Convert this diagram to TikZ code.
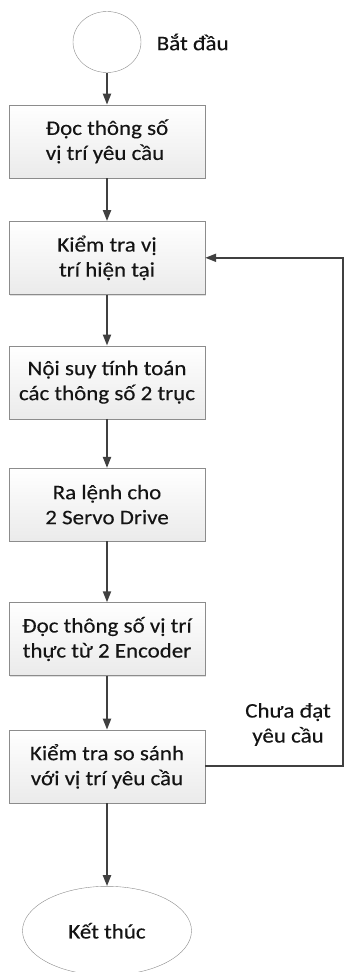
\documentclass[tikz,border=0pt]{standalone}
\usepackage{fontspec}
\setmainfont{Carlito}[FakeStretch=1.11, FakeBold=0.25]
\usepackage{xcolor}
\usetikzlibrary{shapes.geometric, arrows.meta, positioning, shadows, backgrounds}
\definecolor{lineclr}{HTML}{404040}
\definecolor{edgeclr}{HTML}{8C8C8C}
\definecolor{textclr}{HTML}{141414}

\begin{document}
\begin{tikzpicture}[
    x=1pt, y=1pt,
    node distance=43pt,
    font=\fontsize{20.7}{25}\selectfont,
    stepbox/.style={draw=edgeclr, align=center, text=textclr, minimum width=196pt, minimum height=73pt, top color=white, bottom color=gray!16, inner sep=2pt, drop shadow={opacity=0.25, shadow xshift=1.2pt, shadow yshift=-1.2pt}},
    termbox/.style={draw=edgeclr, ellipse, fill=white, text=textclr, inner sep=0pt},
    arr/.style={-{Triangle[length=11pt, width=8pt]}, line width=2pt, draw=lineclr},
]
\useasboundingbox (0,0) rectangle (344,-972);

% Start
\node[termbox, minimum width=68pt, minimum height=61pt] (start) at (107,-42) {};
\node[right=12pt of start, text=textclr] (startlbl) {Bắt đầu};

% Steps (vertical stack)
\node[stepbox, below=32pt of start, align=left] (read) {Đọc thông số\\ vị trí yêu cầu};
\node[stepbox, below=43pt of read] (check) {Kiểm tra vị\\ trí hiện tại};
\node[stepbox, below=51pt of check] (interp) {Nội suy tính toán\\ các thông số 2 trục};
\node[stepbox, below=49pt of interp] (command) {Ra lệnh cho\\ 2 Servo Drive};
\node[stepbox, below=61pt of command] (encoder) {Đọc thông số vị trí\\ thực từ 2 Encoder};
\node[stepbox, below=54pt of encoder] (compare) {Kiểm tra so sánh\\ với vị trí yêu cầu};

% End
\node[termbox, below=83pt of compare, minimum width=169pt, minimum height=89pt] (finish) {Kết thúc};

% Gray frames behind the terminals
\begin{scope}[on background layer]
\fill[top color=white, bottom color=gray!14] (start.south west) rectangle (start.north east);
\fill[top color=white, bottom color=gray!14] (finish.south west) rectangle (finish.north east);
\end{scope}

% Arrows
\draw[arr] (start) -- (read);
\draw[arr] (read) -- (check);
\draw[arr] (check) -- (interp);
\draw[arr] (interp) -- (command);
\draw[arr] (command) -- (encoder);
\draw[arr] (encoder) -- (compare);
\draw[arr] (compare) -- (finish);

% Feedback loop
\coordinate (loopx) at (342.5,0);
\draw[arr] (compare.east) -- (compare.east -| loopx) |- (check.east);
\node[align=center, text=textclr] (notok) at (288,-724.5) {Chưa đạt\\ yêu cầu};
\end{tikzpicture}
\end{document}
